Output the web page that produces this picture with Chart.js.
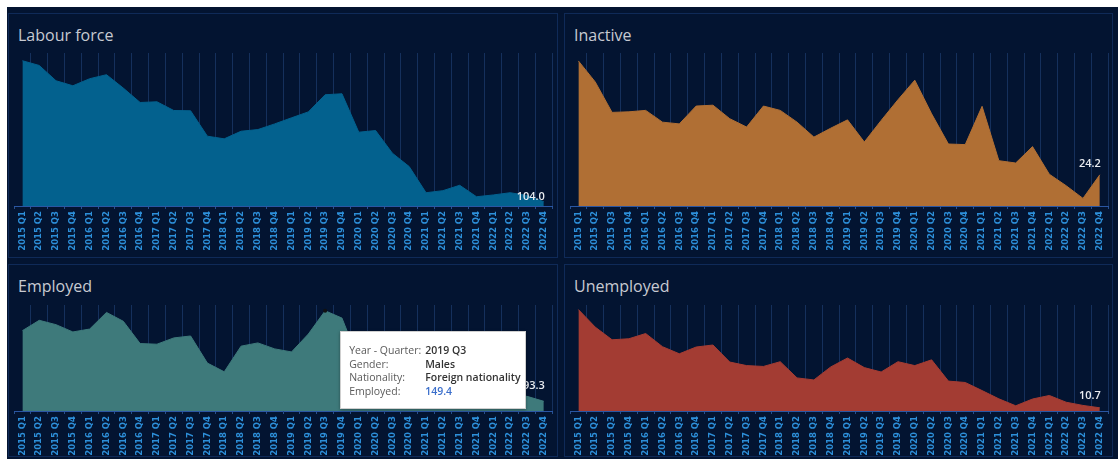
<!DOCTYPE html>
<html>
<head>
<meta charset="utf-8">
<script src="https://cdn.jsdelivr.net/npm/chart.js@4.4.0/dist/chart.umd.min.js"></script>
<style>
html, body { margin:0; padding:0; background:#ffffff; width:1118px; height:459px; overflow:hidden; }
#dash { position:absolute; left:7px; top:7px; width:1111px; height:452px; background:#031431; }
.panel { position:absolute; border:1px solid #0f2a58; box-sizing:border-box; }
.title { position:absolute; font-family:"Open Sans"; font-size:16px; line-height:22px; color:#c7cad1; white-space:nowrap; }
.plot { position:absolute; }
#tip { position:absolute; display:none; width:186px; height:78px; box-sizing:border-box; background:#fff;
       border:1px solid #cfcfcf; box-shadow:0 1px 3px rgba(0,0,0,0.35); padding:12px 0 0 8px;
       font-family:"Open Sans"; font-size:10.5px; line-height:13.8px; color:#5a5a5a; z-index:5; }
#tip .row { display:flex; white-space:nowrap; }
#tip .k { width:76px; flex:none; }
#tip .v { color:#333; font-weight:600; }
#tip .v.num { color:#3a6ecb; }
</style>
</head>
<body>
<div id="dash"></div>

<div class="panel" style="left:8px; top:13px; width:550px; height:245px;"></div>
<div class="panel" style="left:564px; top:13px; width:549px; height:245px;"></div>
<div class="panel" style="left:8px; top:264px; width:550px; height:193px;"></div>
<div class="panel" style="left:564px; top:264px; width:549px; height:193px;"></div>

<div class="title" style="left:18px; top:24px;">Labour force</div>
<div class="title" style="left:574px; top:24px;">Inactive</div>
<div class="title" style="left:18px; top:275px;">Employed</div>
<div class="title" style="left:574px; top:275px;">Unemployed</div>

<div class="plot" style="left:14px; top:53px; width:542px; height:199px;"><canvas id="labourChart"></canvas></div>
<div class="plot" style="left:570px; top:53px; width:542px; height:199px;"><canvas id="inactiveChart"></canvas></div>
<div class="plot" id="employedBox" style="left:14px; top:305px; width:542px; height:152px;"><canvas id="employedChart"></canvas></div>
<div class="plot" style="left:570px; top:305px; width:542px; height:152px;"><canvas id="unemployedChart"></canvas></div>

<div id="tip"></div>

<script>
//* Input data //*

var quarters = ['2015 Q1', '2015 Q2', '2015 Q3', '2015 Q4', '2016 Q1', '2016 Q2', '2016 Q3', '2016 Q4',
                '2017 Q1', '2017 Q2', '2017 Q3', '2017 Q4', '2018 Q1', '2018 Q2', '2018 Q3', '2018 Q4',
                '2019 Q1', '2019 Q2', '2019 Q3', '2019 Q4', '2020 Q1', '2020 Q2', '2020 Q3', '2020 Q4',
                '2021 Q1', '2021 Q2', '2021 Q3', '2021 Q4', '2022 Q1', '2022 Q2', '2022 Q3', '2022 Q4'];

var labourForce = [206.0, 202.6, 191.5, 187.9, 193.0, 195.9, 186.2, 175.8, 176.3, 170.0, 169.8, 151.4,
                   149.5, 155.0, 156.2, 160.3, 164.7, 169.0, 181.4, 182.1, 154.3, 155.5, 139.1, 129.4,
                   110.5, 112.0, 115.9, 107.6, 108.9, 110.5, 108.5, 104.0];

var inactive = [63.8, 56.5, 45.9, 46.1, 46.6, 42.5, 41.9, 48.1, 48.4, 43.7, 40.8, 48.1,
                46.6, 42.5, 37.3, 40.4, 43.3, 35.6, 43.1, 50.3, 57.1, 45.4, 34.9, 34.7,
                48.0, 29.1, 28.3, 34.0, 24.4, 20.4, 16.0, 24.2];

var employed = [137.1, 143.5, 140.8, 136.3, 138.1, 148.4, 142.9, 129.1, 128.7, 132.6, 133.8, 117.0,
                111.6, 127.5, 129.5, 125.8, 123.9, 135.0, 149.4, 144.9, 118.6, 116.4, 112.6, 103.7,
                89.6, 96.0, 104.0, 91.7, 90.9, 96.5, 96.4, 93.3];

var unemployed = [68.9, 58.5, 51.0, 51.6, 54.7, 46.9, 42.7, 46.7, 47.9, 37.8, 35.7, 35.2,
                  38.0, 28.4, 27.2, 34.9, 40.2, 34.5, 31.9, 38.0, 35.7, 39.1, 26.5, 25.7,
                  20.9, 16.0, 11.9, 15.9, 18.0, 14.0, 12.1, 10.7];

var hoverQuarter = '2019 Q3';
var hoverGender = 'Males';
var hoverNationality = 'Foreign nationality';

//* Last value label //*

var lastLabel = {
    id: 'lastLabel',
    afterDraw: function(chart, args, opts) {
        var meta = chart.getDatasetMeta(0);
        var n = meta.data.length - 1;
        var pt = meta.data[n];
        var v = chart.data.datasets[0].data[n];
        var c = chart.ctx;
        c.save();
        c.font = '600 11px "Open Sans"';
        c.fillStyle = '#e9ecf1';
        c.textAlign = 'right';
        c.textBaseline = 'middle';
        c.fillText(v.toFixed(1), pt.x + 1, pt.y - opts.dy);
        c.restore();
    }
};

//* Tooltip box (html) //*

function showTip(context) {
    var tip = document.getElementById('tip');
    var tooltip = context.tooltip;
    var items = tooltip.dataPoints || tooltip._tooltipItems || [];
    if (!items.length) { tip.style.display = 'none'; return; }
    var item = items[0];
    var box = document.getElementById('employedBox');
    tip.innerHTML =
        '<div class="row"><span class="k">Year - Quarter:</span><span class="v">' + quarters[item.dataIndex] + '</span></div>' +
        '<div class="row"><span class="k">Gender:</span><span class="v">' + hoverGender + '</span></div>' +
        '<div class="row"><span class="k">Nationality:</span><span class="v">' + hoverNationality + '</span></div>' +
        '<div class="row"><span class="k">Employed:</span><span class="v num">' + employed[item.dataIndex].toFixed(1) + '</span></div>';
    tip.style.left = (box.offsetLeft + item.element.x + 15) + 'px';
    tip.style.top = (box.offsetTop + item.element.y + 20) + 'px';
    tip.style.display = 'block';
}

//* Build one area chart //*

function makeChart(id, name, values, colour, yMin, yMax, labelDy, withTip) {
    var hoverIndex = quarters.indexOf(hoverQuarter);
    var ctx = document.getElementById(id).getContext('2d');
    return new Chart(ctx, {
        type: 'line',
        data: {
            labels: quarters,
            datasets: [{
                label: name,
                data: values,
                backgroundColor: colour,
                borderColor: colour,
                borderWidth: 1,
                fill: 'start',
                tension: 0,
                pointRadius: function(c) { return (withTip && c.dataIndex === hoverIndex) ? 2 : 0; },
                pointBackgroundColor: '#111111',
                pointBorderWidth: 0
            }]
        },
        options: {
            responsive: true,
            maintainAspectRatio: false,
            animation: false,
            events: [],
            layout: { padding: 0, autoPadding: false },
            plugins: {
                legend: { display: false },
                tooltip: { enabled: false, external: withTip ? showTip : null },
                lastLabel: { dy: labelDy }
            },
            scales: {
                x: {
                    z: 1,
                    offset: true,
                    grid: {
                        offset: true,
                        color: function(c) { return (c.index === 0 || c.index === quarters.length) ? 'rgba(0,0,0,0)' : 'rgba(60,110,185,0.32)'; },
                        tickColor: '#27508f',
                        tickLength: 3
                    },
                    border: { color: '#2a56a3', width: 1 },
                    ticks: {
                        autoSkip: false,
                        maxRotation: 90,
                        minRotation: 90,
                        padding: 2,
                        color: '#2d8fd9',
                        font: { family: 'DejaVu Sans', weight: 'bold', size: 8.5 }
                    },
                    afterFit: function(s) { s.height = 46; }
                },
                y: { display: false, min: yMin, max: yMax }
            }
        },
        plugins: [lastLabel]
    });
}

var labourChart = makeChart('labourChart', 'Labour force', labourForce, '#03618e', 100.9, 211.6, 5, false);
var inactiveChart = makeChart('inactiveChart', 'Inactive', inactive, '#b06f34', 13.35, 66.55, 11, false);
var employedChart = makeChart('employedChart', 'Employed', employed, '#3e7a7b', 87.3, 153.0, 15, true);
var unemployedChart = makeChart('unemployedChart', 'Unemployed', unemployed, '#a33c33', 8.8, 71.6, 12, false);

// Show the hovered mark's tooltip, as in the screenshot.
var hoverIdx = quarters.indexOf(hoverQuarter);
var hoverEl = employedChart.getDatasetMeta(0).data[hoverIdx];
employedChart.tooltip.setActiveElements([{ datasetIndex: 0, index: hoverIdx }], { x: hoverEl.x, y: hoverEl.y });
</script>
</body>
</html>
